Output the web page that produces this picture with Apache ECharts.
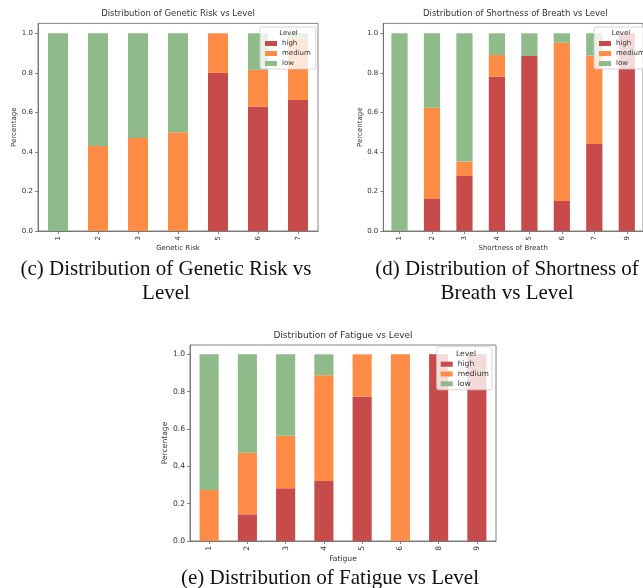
<!DOCTYPE html>
<html>
<head>
<meta charset="utf-8">
<script src="https://cdn.jsdelivr.net/npm/echarts@6/dist/echarts.min.js"></script>
<style>html,body{margin:0;padding:0;background:#fff;}#c{width:643px;height:588px;}</style>
</head>
<body>
<div id="c"></div>
<script>
// ---- data ----
const levels = ['high', 'medium', 'low'];
const yTicks = [0, 0.2, 0.4, 0.6, 0.8, 1.0];

const geneticCats = ['1', '2', '3', '4', '5', '6', '7'];
const geneticHigh = [0, 0, 0, 0, 0.80, 0.63, 0.663];
const geneticMedium = [0, 0.43, 0.47, 0.50, 0.20, 0.185, 0.312];
const geneticLow = [1.0, 0.57, 0.53, 0.50, 0, 0.185, 0.025];

const breathCats = ['1', '2', '3', '4', '5', '6', '7', '9'];
const breathHigh = [0, 0.165, 0.278, 0.78, 0.885, 0.152, 0.44, 1.0];
const breathMedium = [0, 0.459, 0.073, 0.11, 0, 0.801, 0.447, 0];
const breathLow = [1.0, 0.376, 0.649, 0.11, 0.115, 0.047, 0.113, 0];

const fatigueCats = ['1', '2', '3', '4', '5', '6', '8', '9'];
const fatigueHigh = [0, 0.143, 0.282, 0.321, 0.773, 0, 1.0, 1.0];
const fatigueMedium = [0.273, 0.33, 0.282, 0.567, 0.227, 1.0, 0, 0];
const fatigueLow = [0.727, 0.527, 0.436, 0.112, 0, 0, 0, 0];

const colors = {high: '#c84b4b', medium: '#fe8c46', low: '#8fbb8b'};
const FONT = 'DejaVu Sans';
const SERIF = 'Liberation Serif';

const panels = [
  {title: 'Distribution of Genetic Risk vs Level', xName: 'Genetic Risk', cats: geneticCats,
   vals: [geneticHigh, geneticMedium, geneticLow],
   grid: {left: 38, top: 23.4, width: 280, height: 207.6}, fs: 7, tfs: 8.5,
   yGap: 19, xGap: 11.5,
   legend: {left: 260, top: 27, padding: [13, 5, 2, 5], gap: 3}, legendTitle: [288.5, 33.3]},
  {title: 'Distribution of Shortness of Breath vs Level', xName: 'Shortness of Breath', cats: breathCats,
   vals: [breathHigh, breathMedium, breathLow],
   grid: {left: 383.3, top: 23.4, width: 264, height: 207.6}, fs: 7, tfs: 8.5,
   yGap: 17, xGap: 11.5,
   legend: {left: 594, top: 27, padding: [13, 5, 2, 5], gap: 3}, legendTitle: [621, 33.3]},
  {title: 'Distribution of Fatigue vs Level', xName: 'Fatigue', cats: fatigueCats,
   vals: [fatigueHigh, fatigueMedium, fatigueLow],
   grid: {left: 190, top: 345, width: 306, height: 196}, fs: 7.6, tfs: 9,
   yGap: 20.5, xGap: 10.5,
   legend: {left: 436.7, top: 346.7, padding: [13.5, 3, 2, 4], gap: 1.8}, legendTitle: [466, 354.3]}
];

const option = {
  animation: false,
  backgroundColor: '#fff',
  title: [], grid: [], xAxis: [], yAxis: [], series: [], legend: []
};

panels.forEach((p, i) => {
  option.grid.push(Object.assign({show: true, borderColor: '#666', borderWidth: 0.8,
    backgroundColor: 'transparent', containLabel: false}, p.grid));
  option.title.push({
    text: p.title, left: p.grid.left + p.grid.width / 2, textAlign: 'center',
    top: p.grid.top - 8.4 - p.tfs / 2 - 2, padding: 0,
    textStyle: {fontFamily: FONT, fontSize: p.tfs, fontWeight: 'normal', color: '#333', lineHeight: p.tfs + 2}
  });
  option.title.push({
    text: 'Level', left: p.legendTitle[0], textAlign: 'center', top: p.legendTitle[1] - (p.fs + 2) / 2, padding: 0, z: 10,
    textStyle: {fontFamily: FONT, fontSize: p.fs, fontWeight: 'normal', color: '#333', lineHeight: p.fs + 2}
  });
  option.xAxis.push({
    type: 'category', gridIndex: i, data: p.cats, name: p.xName, nameLocation: 'middle', nameGap: p.xGap,
    nameTextStyle: {fontFamily: FONT, fontSize: p.fs, color: '#333'},
    axisLine: {show: true, lineStyle: {color: '#666', width: 0.8}},
    axisTick: {show: true, alignWithLabel: true, length: 3, lineStyle: {color: '#666', width: 0.8}},
    axisLabel: {rotate: 90, margin: 5, fontFamily: FONT, fontSize: p.fs, color: '#333'},
    splitLine: {show: false}
  });
  option.yAxis.push({
    type: 'value', gridIndex: i, min: 0, max: 1.05, name: 'Percentage', nameLocation: 'middle', nameGap: p.yGap,
    nameTextStyle: {fontFamily: FONT, fontSize: p.fs, color: '#333'},
    axisLine: {show: true, lineStyle: {color: '#666', width: 0.8}},
    axisTick: {show: true, length: 3, customValues: yTicks, lineStyle: {color: '#666', width: 0.8}},
    axisLabel: {margin: 5, customValues: yTicks, formatter: v => v.toFixed(1),
      fontFamily: FONT, fontSize: p.fs, color: '#333'},
    splitLine: {show: false}
  });
  levels.forEach((lv, k) => {
    option.series.push({
      type: 'bar', name: lv, xAxisIndex: i, yAxisIndex: i, stack: 'p' + i, barWidth: '50%',
      data: p.vals[k], itemStyle: {color: colors[lv]}, z: 2
    });
  });
  option.legend.push({
    orient: 'vertical', left: p.legend.left, top: p.legend.top, padding: p.legend.padding,
    itemGap: p.legend.gap, itemWidth: 12, itemHeight: 5, icon: 'rect',
    backgroundColor: 'rgba(255,255,255,0.8)', borderColor: '#cccccc', borderWidth: 0.8, borderRadius: 2,
    data: levels, selectedMode: false,
    textStyle: {fontFamily: FONT, fontSize: p.fs, color: '#333', padding: [0, 0, 0, 0]}
  });
});

// captions
option.title.push({
  text: '(c) Distribution of Genetic Risk vs\nLevel', left: 166, textAlign: 'center', top: 257, padding: 0,
  textStyle: {fontFamily: SERIF, fontSize: 21, fontWeight: 'normal', color: '#111', lineHeight: 24}
});
option.title.push({
  text: '(d) Distribution of Shortness of\nBreath vs Level', left: 507, textAlign: 'center', top: 257, padding: 0,
  textStyle: {fontFamily: SERIF, fontSize: 21, fontWeight: 'normal', color: '#111', lineHeight: 24}
});
option.title.push({
  text: '(e) Distribution of Fatigue vs Level', left: 330, textAlign: 'center', top: 566, padding: 0,
  textStyle: {fontFamily: SERIF, fontSize: 21, fontWeight: 'normal', color: '#111', lineHeight: 24}
});

const chart = echarts.init(document.getElementById('c'), null, {renderer: 'canvas'});
chart.setOption(option);
</script>
</body>
</html>
